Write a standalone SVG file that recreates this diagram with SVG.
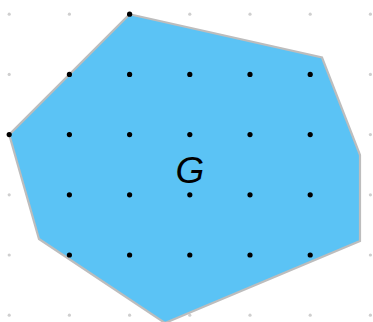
<svg xmlns="http://www.w3.org/2000/svg" width="373" height="322" viewBox="0 0 373 322">
<style>
.g{fill:#cfcfcf}
.b{fill:#000}
.poly{fill:#5bc3f5;stroke:#bdbdbd;stroke-width:2.2;stroke-linejoin:miter}
.lbl{font-family:"Liberation Sans",Arial,sans-serif;font-style:italic;font-size:37px;fill:#000}
</style>
<defs>
<circle id="gd" r="1.6" class="g"/>
<circle id="bd" r="2.6" class="b"/>
</defs>
<rect width="373" height="322" fill="#fff"/>
<g id="grid">
<use href="#gd" x="9.2" y="14.2"/><use href="#gd" x="69.4" y="14.2"/><use href="#gd" x="189.8" y="14.2"/><use href="#gd" x="250" y="14.2"/><use href="#gd" x="310.2" y="14.2"/><use href="#gd" x="370.4" y="14.2"/>
<use href="#gd" x="9.2" y="74.4"/><use href="#gd" x="370.4" y="74.4"/>
<use href="#gd" x="370.4" y="134.6"/>
<use href="#gd" x="9.2" y="194.8"/><use href="#gd" x="370.4" y="194.8"/>
<use href="#gd" x="9.2" y="255"/><use href="#gd" x="370.4" y="255"/>
<use href="#gd" x="9.2" y="315.2"/><use href="#gd" x="69.4" y="315.2"/><use href="#gd" x="129.6" y="315.2"/><use href="#gd" x="189.8" y="315.2"/><use href="#gd" x="250" y="315.2"/><use href="#gd" x="310.2" y="315.2"/><use href="#gd" x="370.4" y="315.2"/>
</g>
<g id="G">
<polygon class="poly" points="129.6,14.2 322,57.5 360,155 360,241 165,323 39,239 9.2,134.6"/>
<text class="lbl" x="190" y="183" text-anchor="middle">G</text>
</g>
<g id="points">
<use href="#bd" x="129.6" y="14.2"/>
<use href="#bd" x="69.4" y="74.4"/><use href="#bd" x="129.6" y="74.4"/><use href="#bd" x="189.8" y="74.4"/><use href="#bd" x="250" y="74.4"/><use href="#bd" x="310.2" y="74.4"/>
<use href="#bd" x="9.2" y="134.6"/><use href="#bd" x="69.4" y="134.6"/><use href="#bd" x="129.6" y="134.6"/><use href="#bd" x="189.8" y="134.6"/><use href="#bd" x="250" y="134.6"/><use href="#bd" x="310.2" y="134.6"/>
<use href="#bd" x="69.4" y="194.8"/><use href="#bd" x="129.6" y="194.8"/><use href="#bd" x="189.8" y="194.8"/><use href="#bd" x="250" y="194.8"/><use href="#bd" x="310.2" y="194.8"/>
<use href="#bd" x="69.4" y="255"/><use href="#bd" x="129.6" y="255"/><use href="#bd" x="189.8" y="255"/><use href="#bd" x="250" y="255"/><use href="#bd" x="310.2" y="255"/>
</g>
</svg>
